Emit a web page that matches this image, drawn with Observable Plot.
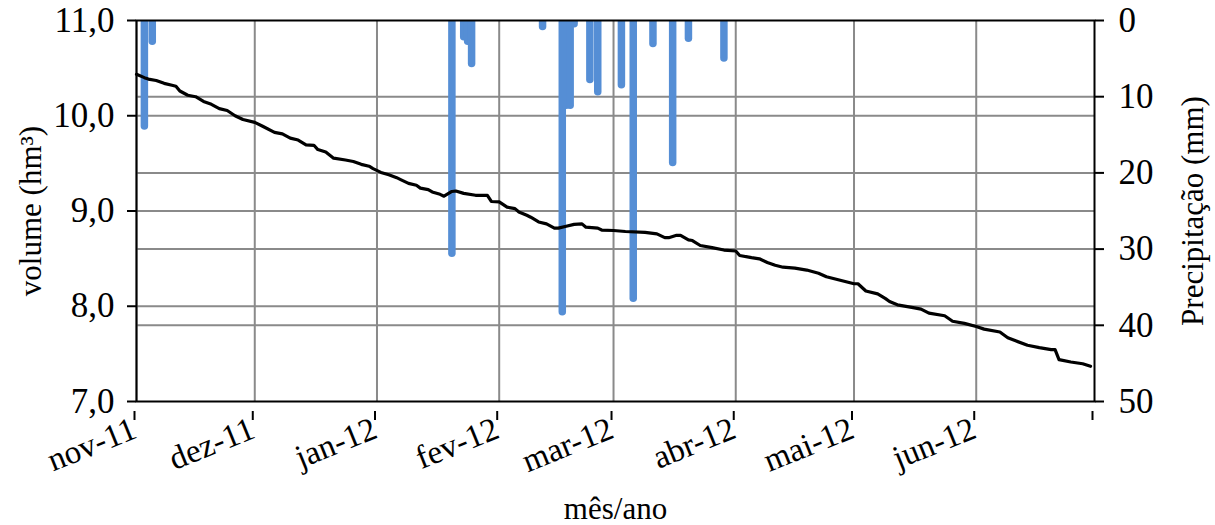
<!DOCTYPE html>
<html>
<head>
<meta charset="utf-8">
<script src="https://cdn.jsdelivr.net/npm/d3@7"></script>
<script src="https://cdn.jsdelivr.net/npm/@observablehq/plot@0.6"></script>
<style>
  html, body { margin: 0; padding: 0; background: white; overflow: hidden; }
  svg, svg text { font-family: "Liberation Serif", "Times New Roman", serif !important; }
</style>
</head>
<body>
<div id="chart"></div>
<script>
// ---- Data ----
const monthTicks = ["2011-11-01","2011-12-01","2012-01-01","2012-02-01","2012-03-01","2012-04-01","2012-05-01","2012-06-01"];
const monthLabels = ["nov-11","dez-11","jan-12","fev-12","mar-12","abr-12","mai-12","jun-12"];

const volTicks = [7, 8, 9, 10, 11];
const volTickLabels = ["7,0", "8,0", "9,0", "10,0", "11,0"];
const rainTicks = [0, 10, 20, 30, 40, 50];

// Reservoir volume (hm³)
const volDates = [
  "2011-11-01","2011-11-03","2011-11-04","2011-11-06","2011-11-08","2011-11-10","2011-11-11","2011-11-12",
  "2011-11-14","2011-11-16","2011-11-18","2011-11-20","2011-11-22","2011-11-24","2011-11-26","2011-11-28",
  "2011-12-01","2011-12-03","2011-12-06","2011-12-08","2011-12-10","2011-12-12","2011-12-14","2011-12-16",
  "2011-12-17","2011-12-19","2011-12-21","2011-12-24","2011-12-26","2011-12-28","2011-12-30","2011-12-31",
  "2012-01-02","2012-01-04","2012-01-06","2012-01-07","2012-01-09","2012-01-11","2012-01-12","2012-01-14",
  "2012-01-15","2012-01-17","2012-01-18","2012-01-20","2012-01-21","2012-01-23","2012-01-26","2012-01-29",
  "2012-01-30","2012-02-01","2012-02-03","2012-02-05","2012-02-06","2012-02-08","2012-02-09","2012-02-11",
  "2012-02-13","2012-02-15","2012-02-16","2012-02-18","2012-02-20","2012-02-22","2012-02-23","2012-02-26",
  "2012-02-27","2012-03-01","2012-03-04","2012-03-09","2012-03-12","2012-03-14","2012-03-15","2012-03-17",
  "2012-03-18","2012-03-20","2012-03-21","2012-03-23","2012-03-26","2012-03-29","2012-04-01","2012-04-02",
  "2012-04-05","2012-04-07","2012-04-09","2012-04-11","2012-04-13","2012-04-16","2012-04-19","2012-04-22",
  "2012-04-24","2012-04-27","2012-05-01","2012-05-02","2012-05-04","2012-05-07","2012-05-09","2012-05-10",
  "2012-05-12","2012-05-16","2012-05-18","2012-05-20","2012-05-24","2012-05-26","2012-05-29","2012-06-01",
  "2012-06-03","2012-06-07","2012-06-09","2012-06-11","2012-06-14","2012-06-17","2012-06-20","2012-06-21",
  "2012-06-22","2012-06-25","2012-06-28","2012-06-30"
];
const volValues = [
  10.435,10.40,10.385,10.37,10.34,10.32,10.31,10.26,
  10.215,10.20,10.15,10.12,10.075,10.055,10.00,9.96,
  9.93,9.89,9.825,9.81,9.765,9.745,9.695,9.69,
  9.645,9.62,9.555,9.535,9.52,9.49,9.47,9.445,
  9.405,9.38,9.35,9.33,9.29,9.27,9.24,9.225,
  9.20,9.175,9.155,9.205,9.21,9.185,9.165,9.165,
  9.10,9.095,9.04,9.025,8.99,8.955,8.935,8.885,
  8.865,8.82,8.82,8.84,8.86,8.865,8.83,8.82,
  8.80,8.795,8.785,8.775,8.76,8.72,8.72,8.745,
  8.745,8.697,8.69,8.638,8.615,8.59,8.58,8.533,
  8.51,8.498,8.46,8.43,8.41,8.40,8.38,8.347,
  8.31,8.278,8.236,8.236,8.16,8.13,8.08,8.05,
  8.015,7.985,7.97,7.927,7.90,7.843,7.82,7.787,
  7.76,7.73,7.67,7.637,7.59,7.565,7.545,7.545,
  7.44,7.415,7.396,7.37
];

// Daily rainfall (mm)
const rainDates = [
  "2011-11-03","2011-11-05","2012-01-20","2012-01-23","2012-01-24","2012-01-25","2012-02-12",
  "2012-02-17","2012-02-18","2012-02-19","2012-02-20","2012-02-24","2012-02-26","2012-03-03",
  "2012-03-06","2012-03-11","2012-03-16","2012-03-20","2012-03-29"
];
const rainMM = [13.9, 2.8, 30.6, 2.2, 2.8, 5.7, 0.85, 38.3, 11.2, 11.2, 0.5, 7.8, 9.4, 8.5, 36.5, 3.1, 18.7, 2.4, 5.0];

// ---- Build tables ----
const parse = d3.utcParse("%Y-%m-%d");
const vol = volDates.map((d, i) => ({date: parse(d), v: volValues[i]}));
const rain = rainDates.map((d, i) => ({date: parse(d), mm: rainMM[i]}));
const months = monthTicks.map(parse);

// precipitation (0 at top, 50 at bottom) mapped onto the volume scale [11 .. 7]
const VTOP = 11, VBOT = 7, PMAX = 50;
const toVol = p => VTOP - p * (VTOP - VBOT) / PMAX;
const fromVol = v => Math.round((VTOP - v) * PMAX / (VTOP - VBOT));

const gridColor = "#8a8a8a";
const fontFamily = "Liberation Serif";

const chart = Plot.plot({
  width: 1215,
  height: 525,
  marginTop: 20,
  marginBottom: 124,
  marginLeft: 136,
  marginRight: 121,
  style: {fontFamily, fontSize: "31px", color: "black", background: "white"},
  x: {type: "utc", domain: [parse("2011-11-01"), parse("2012-07-01")]},
  y: {domain: [VBOT, VTOP]},
  marks: [
    Plot.gridX(months, {stroke: gridColor, strokeOpacity: 1, strokeWidth: 2}),
    Plot.gridY([8, 9, 10], {stroke: gridColor, strokeOpacity: 1, strokeWidth: 2}),
    Plot.gridY(rainTicks.slice(1, 5).map(toVol), {stroke: gridColor, strokeOpacity: 1, strokeWidth: 2}),
    Plot.ruleX(rain, {x: "date", y1: VTOP, y2: d => toVol(d.mm), stroke: "#558ED5", strokeWidth: 7.5, strokeLinecap: "round", clip: true}),
    Plot.line(vol, {x: "date", y: "v", stroke: "black", strokeWidth: 3.2, strokeLinejoin: "round"}),
    Plot.frame({stroke: "black", strokeWidth: 2}),
    Plot.axisY(volTicks, {
      anchor: "left", tickSize: 9, tickPadding: 13, strokeWidth: 2, fontSize: 35,
      tickFormat: (d) => volTickLabels[volTicks.indexOf(d)],
      label: null
    }),
    Plot.axisY({
      anchor: "left", ticks: [], label: "volume (hm³)", labelAnchor: "center", labelArrow: "none", labelOffset: 118, fontSize: 31
    }),
    Plot.axisY(rainTicks.map(toVol), {
      anchor: "right", tickSize: 9, tickPadding: 15, strokeWidth: 2, fontSize: 35,
      tickFormat: v => String(fromVol(v)),
      label: null
    }),
    Plot.axisY({
      anchor: "right", ticks: [], label: "Precipitação (mm)", labelAnchor: "center", labelArrow: "none", labelOffset: 108, fontSize: 31
    }),
    Plot.axisX(months.concat([parse("2012-07-01")]), {
      anchor: "bottom", tickSize: 9, strokeWidth: 2, tickRotate: -22, fontSize: 33, dy: 10, dx: -2,
      tickFormat: (d, i) => monthLabels[i] ?? "",
      label: null
    }),
    Plot.axisX({
      anchor: "bottom", ticks: [], label: "mês/ano", labelAnchor: "center", labelArrow: "none", labelOffset: 117, fontSize: 31
    })
  ]
});
d3.select(chart).selectAll("text").attr("font-family", fontFamily).style("font-family", fontFamily);
document.getElementById("chart").appendChild(chart);
</script>
</body>
</html>
